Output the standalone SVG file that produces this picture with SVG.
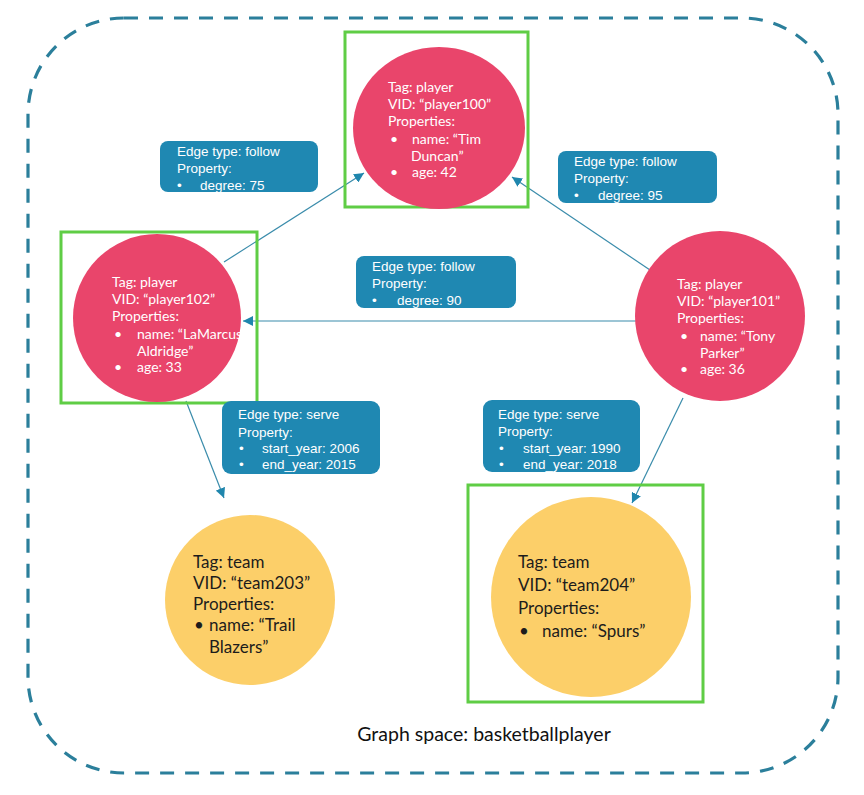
<svg xmlns="http://www.w3.org/2000/svg" width="864" height="795" viewBox="0 0 864 795">
<style>
.frame{fill:none;stroke:#2b7f9b;stroke-width:3.2;stroke-dasharray:14 11}
.hl{fill:none;stroke:#5fcd45;stroke-width:3}
.player{fill:#e9456b}
.team{fill:#fccf69}
.pt{font-family:Lato,"Open Sans",sans-serif;font-size:14px;fill:#ffffff}
.tt{font-family:Lato,"Open Sans",sans-serif;font-size:17px;fill:#1c1c1c}
.lbl{fill:#1f88b2}
.lt{font-family:"Liberation Sans",Arial,sans-serif;font-size:13.5px;fill:#ffffff}
.edge{fill:none;stroke:#3a8cab;stroke-width:1.2;marker-end:url(#arr)}
.title{font-family:Lato,"Open Sans",sans-serif;font-size:19.5px;fill:#111111}
</style>
<defs>
<marker id="arr" viewBox="0 0 10 10" refX="10" refY="5" markerWidth="10" markerHeight="10" markerUnits="userSpaceOnUse" orient="auto">
<path d="M0,0 L10,5 L0,10 z" fill="#1f86ad"/>
</marker>
</defs>
<rect x="0" y="0" width="864" height="795" fill="#ffffff"/>
<rect class="frame" x="28" y="18" width="810" height="755" rx="96" ry="96"/>

<g id="connectors">
<line class="edge" x1="224" y1="262" x2="364" y2="173"/>
<line class="edge" x1="650" y1="270" x2="512" y2="177"/>
<line class="edge" x1="636" y1="321" x2="243" y2="321"/>
<line class="edge" x1="186" y1="401" x2="224" y2="498"/>
<line class="edge" x1="683" y1="398" x2="632" y2="503"/>
</g>

<g id="player100">
<rect class="hl" x="345" y="32" width="183" height="175"/>
<ellipse class="player" cx="439" cy="128" rx="86" ry="81"/>
<text class="pt" x="388" y="92">Tag: player</text>
<text class="pt" x="388" y="109">VID: “player100”</text>
<text class="pt" x="388" y="126">Properties:</text>
<text class="pt" x="390" y="144">•</text>
<text class="pt" x="412" y="144">name: “Tim</text>
<text class="pt" x="411" y="161">Duncan”</text>
<text class="pt" x="390" y="177">•</text>
<text class="pt" x="412" y="177">age: 42</text>
</g>

<g id="player102">
<rect class="hl" x="61" y="232" width="196" height="171"/>
<circle class="player" cx="157" cy="318" r="84"/>
<text class="pt" x="112" y="287">Tag: player</text>
<text class="pt" x="112" y="304">VID: “player102”</text>
<text class="pt" x="112" y="321">Properties:</text>
<text class="pt" x="114" y="339">•</text>
<text class="pt" x="137" y="339">name: “LaMarcus</text>
<text class="pt" x="137" y="356">Aldridge”</text>
<text class="pt" x="114" y="372">•</text>
<text class="pt" x="137" y="372">age: 33</text>
</g>

<g id="player101">
<circle class="player" cx="720" cy="316" r="85"/>
<text class="pt" x="677" y="289">Tag: player</text>
<text class="pt" x="677" y="306">VID: “player101”</text>
<text class="pt" x="677" y="323">Properties:</text>
<text class="pt" x="680" y="341">•</text>
<text class="pt" x="700" y="341">name: “Tony</text>
<text class="pt" x="700" y="358">Parker”</text>
<text class="pt" x="680" y="374">•</text>
<text class="pt" x="700" y="374">age: 36</text>
</g>

<g id="team203">
<circle class="team" cx="250" cy="600" r="85"/>
<text class="tt" x="193" y="568">Tag: team</text>
<text class="tt" x="193" y="589">VID: “team203”</text>
<text class="tt" x="193" y="610">Properties:</text>
<text class="tt" x="194" y="631">•</text>
<text class="tt" x="209" y="631">name: “Trail</text>
<text class="tt" x="209" y="653">Blazers”</text>
</g>

<g id="team204">
<rect class="hl" x="468" y="485" width="235" height="217"/>
<circle class="team" cx="591" cy="597" r="100"/>
<text class="tt" x="518" y="568">Tag: team</text>
<text class="tt" x="518" y="591">VID: “team204”</text>
<text class="tt" x="518" y="614">Properties:</text>
<text class="tt" x="519" y="637">•</text>
<text class="tt" x="542" y="637">name: “Spurs”</text>
</g>

<g id="label-follow-75">
<rect class="lbl" x="160" y="141" width="158" height="51" rx="8"/>
<text class="lt" x="177" y="156">Edge type: follow</text>
<text class="lt" x="177" y="173">Property:</text>
<text class="lt" x="177" y="190">•</text>
<text class="lt" x="200" y="190">degree: 75</text>
</g>

<g id="label-follow-95">
<rect class="lbl" x="558" y="151" width="159" height="52" rx="8"/>
<text class="lt" x="574" y="166">Edge type: follow</text>
<text class="lt" x="574" y="183">Property:</text>
<text class="lt" x="574" y="200">•</text>
<text class="lt" x="598" y="200">degree: 95</text>
</g>

<g id="label-follow-90">
<rect class="lbl" x="356" y="256" width="160" height="52" rx="8"/>
<text class="lt" x="372" y="271">Edge type: follow</text>
<text class="lt" x="372" y="288">Property:</text>
<text class="lt" x="372" y="305">•</text>
<text class="lt" x="397" y="305">degree: 90</text>
</g>

<g id="label-serve-2006">
<rect class="lbl" x="222" y="401" width="158" height="73" rx="9"/>
<text class="lt" x="238" y="419">Edge type: serve</text>
<text class="lt" x="238" y="437">Property:</text>
<text class="lt" x="239" y="453">•</text>
<text class="lt" x="262" y="453">start_year: 2006</text>
<text class="lt" x="239" y="469">•</text>
<text class="lt" x="262" y="469">end_year: 2015</text>
</g>

<g id="label-serve-1990">
<rect class="lbl" x="483" y="400" width="157" height="72" rx="9"/>
<text class="lt" x="498" y="419">Edge type: serve</text>
<text class="lt" x="498" y="436">Property:</text>
<text class="lt" x="499" y="453">•</text>
<text class="lt" x="523" y="453">start_year: 1990</text>
<text class="lt" x="499" y="469">•</text>
<text class="lt" x="523" y="469">end_year: 2018</text>
</g>

<text class="title" x="484" y="741" text-anchor="middle">Graph space: basketballplayer</text>
</svg>
